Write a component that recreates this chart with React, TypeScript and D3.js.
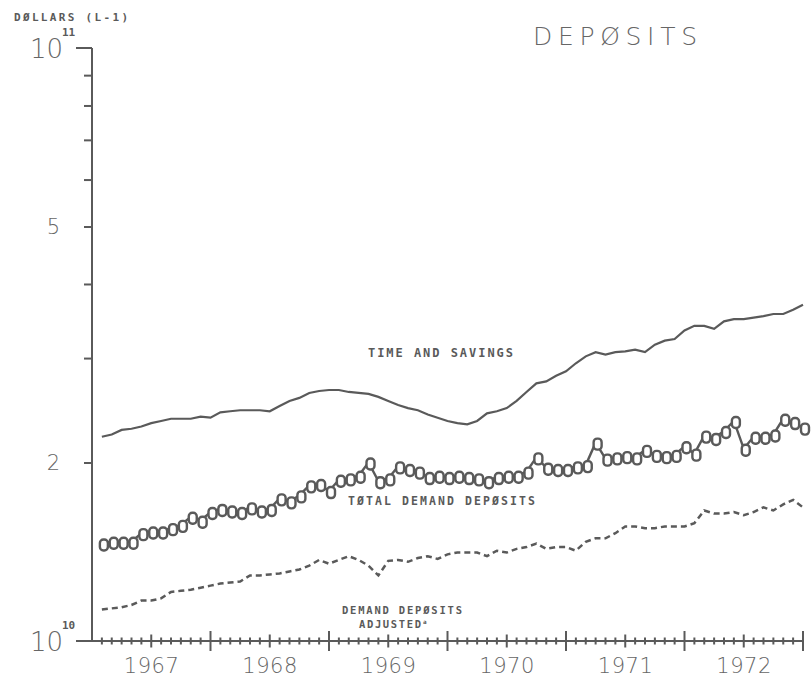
import React, { useEffect, useRef } from 'react';
import * as d3 from 'd3';

// monthly values, billions of dollars, Jan 1967 .. Dec 1972
const yearLabels = ['1967', '1968', '1969', '1970', '1971', '1972'];

const timeSavings = [
  22.1, 22.3, 22.7, 22.8, 23.0, 23.3, 23.5, 23.7, 23.7, 23.7, 23.9, 23.8,
  24.3, 24.4, 24.5, 24.5, 24.5, 24.4, 24.9, 25.4, 25.7, 26.2, 26.4, 26.5,
  26.5, 26.3, 26.2, 26.1, 25.8, 25.4, 25.0, 24.7, 24.5, 24.1, 23.8, 23.5,
  23.3, 23.2, 23.5, 24.2, 24.4, 24.7, 25.4, 26.3, 27.2, 27.4, 28.0, 28.5,
  29.4, 30.2, 30.7, 30.4, 30.7, 30.8, 31.0, 30.7, 31.6, 32.1, 32.3, 33.4,
  34.0, 34.0, 33.6, 34.6, 34.9, 34.9, 35.1, 35.3, 35.6, 35.6, 36.2, 36.9
];

const totalDemand = [
  14.6, 14.7, 14.7, 14.7, 15.2, 15.3, 15.3, 15.5, 15.7, 16.2, 15.95, 16.5,
  16.7, 16.6, 16.5, 16.8, 16.6, 16.7, 17.4, 17.2, 17.6, 18.3, 18.4, 17.9,
  18.7, 18.8, 19.0, 20.0, 18.6, 18.8, 19.7, 19.5, 19.3, 18.9, 19.0, 18.9,
  19.0, 18.9, 18.8, 18.6, 18.9, 19.0, 19.0, 19.3, 20.4, 19.6, 19.5, 19.5,
  19.7, 19.8, 21.6, 20.3, 20.4, 20.5, 20.4, 21.0, 20.6, 20.5, 20.6, 21.3,
  20.7, 22.2, 22.0, 22.6, 23.5, 21.1, 22.1, 22.1, 22.3, 23.7, 23.4, 22.9
];

const demandAdjusted = [
  11.3, 11.35, 11.4, 11.5, 11.7, 11.7, 11.8, 12.1, 12.15, 12.2, 12.3, 12.4,
  12.5, 12.55, 12.6, 12.9, 12.9, 12.95, 13.0, 13.1, 13.2, 13.4, 13.7, 13.5,
  13.7, 13.9, 13.7, 13.4, 12.9, 13.65, 13.7, 13.6, 13.8, 13.9, 13.75, 14.0,
  14.1, 14.1, 14.1, 13.9, 14.2, 14.1, 14.3, 14.4, 14.6, 14.3, 14.4, 14.4,
  14.2, 14.7, 14.9, 14.9, 15.2, 15.6, 15.6, 15.5, 15.5, 15.6, 15.6, 15.6,
  15.8, 16.6, 16.4, 16.4, 16.5, 16.3, 16.5, 16.8, 16.6, 17.0, 17.3, 16.8
];

const minorTicks = [20, 30, 40, 50, 60, 70, 80, 90];

const INK = '#5a5a5a';
const LIGHT = '#666';
const PLAIN = '"DejaVu Sans", sans-serif';
const MONO = '"DejaVu Sans Mono", monospace';

const App: React.FC = () => {
  const svgRef = useRef<SVGSVGElement>(null);

  useEffect(() => {
    if (!svgRef.current) return;
    const svg = d3.select(svgRef.current);
    svg.selectAll('*').remove();

    const width = 811;
    const height = 678;
    const nMonths = yearLabels.length * 12;

    const x = d3.scaleLinear().domain([0, nMonths]).range([92, 803]);
    const y = d3.scaleLog().domain([10, 100]).range([641, 48]);

    svg.attr('width', width).attr('height', height);
    svg.append('rect').attr('width', width).attr('height', height).attr('fill', '#fff');

    // left axis
    const yAxis = d3.axisLeft(y)
      .tickValues(minorTicks)
      .tickSize(8)
      .tickPadding(24)
      .tickFormat((d: any) => (d === 50 ? '5' : d === 20 ? '2' : ''));

    const ga = svg.append('g').attr('transform', `translate(${x(0)},0)`).call(yAxis as any);
    ga.select('.domain').remove();
    ga.selectAll('line').attr('stroke', INK).attr('stroke-width', 2);
    ga.selectAll('text')
      .attr('fill', LIGHT)
      .style('font-family', PLAIN)
      .style('font-weight', 300)
      .style('font-size', '21px');

    svg.append('line')
      .attr('x1', x(0)).attr('x2', x(0))
      .attr('y1', y(100)).attr('y2', y(10))
      .attr('stroke', INK).attr('stroke-width', 2);
    svg.append('line')
      .attr('x1', x(0) - 16).attr('x2', x(0))
      .attr('y1', y(100)).attr('y2', y(100))
      .attr('stroke', INK).attr('stroke-width', 2);
    svg.append('line')
      .attr('x1', x(0) - 16).attr('x2', x(nMonths))
      .attr('y1', y(10)).attr('y2', y(10))
      .attr('stroke', INK).attr('stroke-width', 2);

    // powers of ten
    [[100, '11'], [10, '10']].forEach(([v, exp]) => {
      const yy = y(v as number);
      svg.append('text')
        .attr('x', 63).attr('y', yy + 10)
        .attr('text-anchor', 'end')
        .attr('fill', LIGHT)
        .attr('textLength', 33)
        .attr('lengthAdjust', 'spacing')
        .style('font-family', PLAIN)
        .style('font-weight', 300)
        .style('font-size', '26px')
        .text('10');
      svg.append('text')
        .attr('x', 62).attr('y', yy - 12)
        .attr('fill', INK)
        .style('font-family', MONO)
        .style('font-weight', 'bold')
        .style('font-size', '11px')
        .text(exp as string);
    });

    // bottom axis: crossing month ticks
    const base = y(10);
    const tickMonths = d3.range(1, nMonths + 1);
    const half = (d: number) => (d % 12 === 0 ? 10 : d % 6 === 0 ? 6.5 : 3.5);
    svg.append('g')
      .selectAll('line')
      .data(tickMonths)
      .enter()
      .append('line')
      .attr('x1', d => x(d)).attr('x2', d => x(d))
      .attr('y1', d => base - half(d))
      .attr('y2', d => base + half(d))
      .attr('stroke', INK)
      .attr('stroke-width', 2);

    svg.append('g')
      .selectAll('text')
      .data(yearLabels)
      .enter()
      .append('text')
      .attr('x', (d, i) => x(i * 12 + 6))
      .attr('y', 673)
      .attr('text-anchor', 'middle')
      .attr('fill', LIGHT)
      .attr('textLength', 55)
      .attr('lengthAdjust', 'spacing')
      .style('font-family', PLAIN)
      .style('font-weight', 300)
      .style('font-size', '21px')
      .text(d => d);

    const pts = (vals: number[]) => vals.map((v, i) => [x(i + 1), y(v)] as [number, number]);
    const line = d3.line();

    // time and savings
    svg.append('path')
      .attr('d', line(pts(timeSavings)))
      .attr('fill', 'none')
      .attr('stroke', INK)
      .attr('stroke-width', 2.2);

    // demand deposits adjusted, dashed
    svg.append('path')
      .attr('d', line(pts(demandAdjusted)))
      .attr('fill', 'none')
      .attr('stroke', INK)
      .attr('stroke-width', 2.5)
      .attr('stroke-dasharray', '6,4');

    // total demand deposits with plotter symbols
    const tdPts = pts(totalDemand);
    svg.append('path')
      .attr('d', line(tdPts))
      .attr('fill', 'none')
      .attr('stroke', INK)
      .attr('stroke-width', 2.4);
    svg.append('g')
      .selectAll('rect')
      .data(tdPts)
      .enter()
      .append('rect')
      .attr('x', d => d[0] - 4 + 2)
      .attr('y', d => d[1] - 4)
      .attr('width', 8)
      .attr('height', 11)
      .attr('rx', 3.5)
      .attr('fill', '#fff')
      .attr('stroke', INK)
      .attr('stroke-width', 2.4);

    // labels
    const label = (t: string, lx: number, ly: number, size: number, len: number) =>
      svg.append('text')
        .attr('x', lx).attr('y', ly)
        .attr('fill', INK)
        .attr('textLength', len)
        .attr('lengthAdjust', 'spacing')
        .style('font-family', MONO)
        .style('font-weight', 'bold')
        .style('font-size', `${size}px`)
        .text(t);

    label('DØLLARS (L-1)', 14, 21, 11, 114);
    label('TIME AND SAVINGS', 368, 357, 12, 145);
    label('TØTAL DEMAND DEPØSITS', 348, 505, 11.5, 187);
    label('DEMAND DEPØSITS', 342, 614, 10.5, 120);
    label('ADJUSTED', 359, 628, 10.5, 62);
    svg.append('text')
      .attr('x', 423).attr('y', 624)
      .attr('fill', INK)
      .style('font-family', MONO)
      .style('font-weight', 'bold')
      .style('font-size', '6px')
      .text('a');

    svg.append('text')
      .attr('x', 533).attr('y', 45)
      .attr('fill', LIGHT)
      .attr('textLength', 164)
      .attr('lengthAdjust', 'spacing')
      .style('font-family', PLAIN)
      .style('font-weight', 300)
      .style('font-size', '25px')
      .text('DEPØSITS');
  }, []);

  return (
    <div style={{ position: 'absolute', left: 0, top: 0 }}>
      <svg ref={svgRef} style={{ display: 'block' }} />
    </div>
  );
};

export default App;
